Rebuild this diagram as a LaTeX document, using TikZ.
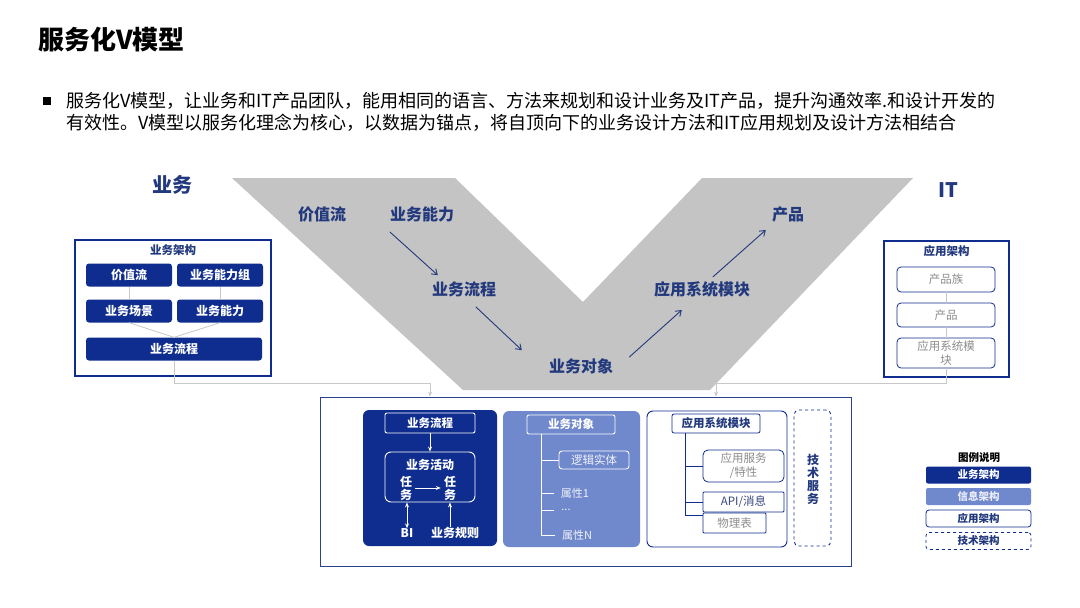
\documentclass[tikz,border=0pt]{standalone}
\usepackage{fontspec}
\setmainfont{Noto Sans CJK SC}
\usepackage{xcolor}
\usetikzlibrary{arrows.meta,calc}
\definecolor{bizblue}{HTML}{0E2D8E}
\definecolor{infoblue}{HTML}{7088CC}
\definecolor{vgray}{HTML}{C4C4C4}
\definecolor{navy}{HTML}{22397D}
\definecolor{lineg}{HTML}{C8C8C8}
\definecolor{txtgray}{HTML}{8C8C8C}

\begin{document}
\begin{tikzpicture}[x=1pt,y=-1pt,
  vlabel/.style={text=navy, font=\fontsize{16}{18}\selectfont\bfseries, inner sep=0pt},
  varrow/.style={-{Straight Barb[length=5pt,width=7pt]}, line width=0.9pt, navy},
  bizbtn/.style={fill=bizblue, rounded corners=3pt, text=white, font=\fontsize{12}{14}\selectfont\bfseries, minimum height=23pt, inner sep=0pt},
  appbtn/.style={draw=bizblue, rounded corners=4pt, text=txtgray, font=\fontsize{11.5}{14}\selectfont, inner sep=0pt, align=center, line width=0.8pt, minimum width=98pt},
  frame/.style={draw=bizblue, line width=1.2pt, inner sep=0pt},
  boxtitle/.style={text=navy, font=\fontsize{11.5}{13}\selectfont\bfseries, inner sep=0pt},
  glink/.style={draw=lineg, line width=0.8pt},
  garrow/.style={glink, -{Stealth[length=5pt,width=4pt]}},
  wline/.style={draw=white, line width=0.9pt},
  warrow/.style={wline, -{Stealth[length=5pt,width=4pt]}},
  wbox/.style={draw=white, rounded corners=2pt, text=white, inner sep=0pt, line width=0.9pt, font=\fontsize{11.5}{13}\selectfont\bfseries},
  wtext/.style={text=white, inner sep=0pt, align=center, font=\fontsize{12}{13}\selectfont\bfseries},
  ltext/.style={text=white!90!infoblue, inner sep=0pt, font=\fontsize{11}{13}\selectfont},
  abox/.style={draw=bizblue, rounded corners=2pt, inner sep=0pt, line width=0.8pt, align=center, font=\fontsize{11.5}{14}\selectfont},
  legbiz/.style={fill=bizblue, text=white, rounded corners=2pt},
  leginfo/.style={fill=infoblue, text=white!85!infoblue, rounded corners=2pt},
  legapp/.style={draw=bizblue, text=navy, rounded corners=3pt, line width=0.8pt},
  legtech/.style={draw=bizblue, text=navy, dashed, rounded corners=3pt, line width=0.8pt},
  legbox/.style={minimum width=105pt, minimum height=17pt, inner sep=0pt, font=\fontsize{10.5}{12}\selectfont\bfseries}
]
\useasboundingbox[fill=white] (0,0) rectangle (1080,608);

% title and bullet text
\node[anchor=west, inner sep=0pt, font=\fontsize{26}{30}\selectfont\bfseries] (title) at (38,40) {服务化V模型};
\node[fill=black, minimum size=8pt, inner sep=0pt] (bul) at (47,101) {};
\node[anchor=west, inner sep=0pt, align=left, font=\fontsize{18}{22}\selectfont] (intro) at (66,112)
  {服务化V模型，让业务和IT产品团队，能用相同的语言、方法来规划和设计业务及IT产品，提升沟通效率.和设计开发的\\
   有效性。V模型以服务化理念为核心，以数据为锚点，将自顶向下的业务设计方法和IT应用规划及设计方法相结合};

% the V
\fill[vgray] (232,178) -- (455,178) -- (583,302) -- (702,178) -- (913,178) -- (710,390) -- (463,390) -- cycle;
\node[text=navy, font=\fontsize{20}{22}\selectfont\bfseries, inner sep=0pt] (biz) at (172,185) {业务};
\node[text=navy, font=\fontsize{20}{22}\selectfont\bfseries, inner sep=0pt] (it) at (948,190) {IT};

\node[vlabel] (vs) at (322,214) {价值流};
\node[vlabel] (cap) at (422,214) {业务能力};
\node[vlabel] (proc) at (464,289) {业务流程};
\node[vlabel] (obj) at (581,366) {业务对象};
\node[vlabel] (mod) at (702,289) {应用系统模块};
\node[vlabel] (prod) at (788,214) {产品};

\draw[varrow] ([yshift=-10pt]cap.south west) -- ([xshift=6pt,yshift=6pt]proc.north west);
\draw[varrow] ([xshift=44pt,yshift=-10pt]proc.south west) -- ([xshift=-27pt,yshift=8pt]obj.north west);
\draw[varrow] ([xshift=16pt,yshift=1pt]obj.north east) -- ([xshift=28pt,yshift=-13pt]mod.south west);
\draw[varrow] ([xshift=59pt,yshift=4pt]mod.north west) -- ([xshift=-6pt,yshift=-8pt]prod.south west);

% business architecture box
\node[frame, minimum width=196pt, minimum height=136pt] (bizarch) at (173,308) {};
\node[boxtitle] (bizt) at (173,250) {业务架构};
\node[bizbtn, minimum width=86pt] (bvs) at (129,275) {价值流};
\node[bizbtn, minimum width=86pt] (bcapg) at (220,275) {业务能力组};
\node[bizbtn, minimum width=86pt] (bscen) at (129,311) {业务场景};
\node[bizbtn, minimum width=86pt] (bcap) at (220,311) {业务能力};
\node[bizbtn, minimum width=176pt] (bflow) at (174,349) {业务流程};
\draw[glink] (bvs.south) -- (bscen.north);
\draw[glink] (bcapg.south) -- (bcap.north);
\draw[glink] (bscen.south) -- (bflow.north);
\draw[glink] (bcap.south) -- (bflow.north);

% application architecture box
\node[frame, minimum width=125pt, minimum height=136pt] (apparch) at (946.5,309) {};
\node[boxtitle] (appt) at (946.5,251) {应用架构};
\node[appbtn, minimum height=25pt] (apf) at (946,279.5) {产品族};
\node[appbtn, minimum height=24pt] (apr) at (946,315) {产品};
\node[appbtn, minimum height=30pt] (asm) at (946,353) {应用系统模\\块};
\draw[glink] (apf.south) -- (apr.north);
\draw[glink] (apr.south) -- (asm.north);

% detail frame
\node[draw=bizblue!75!gray, line width=0.8pt, minimum width=531pt, minimum height=169pt, inner sep=0pt] (detail) at (585.5,481.5) {};

% business panel
\node[fill=bizblue, rounded corners=6pt, minimum width=134pt, minimum height=136pt, inner sep=0pt] (bizpanel) at (430,478) {};
\node[wbox, minimum width=90pt, minimum height=20pt] (bp) at (430,423) {业务流程};
\node[wbox, rounded corners=6pt, minimum width=90pt, minimum height=50pt] (act) at (430,477) {};
\node[wtext] (actt) at (430,465) {业务活动};
\node[wtext] (task1) at (406,488) {任\\务};
\node[wtext] (task2) at (450,488) {任\\务};
\node[wtext] (bi) at (407,533) {BI};
\node[wtext] (rule) at (455,533) {业务规则};
\draw[warrow] ([xshift=3pt]task1.east) -- ([xshift=-3pt]task2.west);
\draw[warrow] (bp.south) -- (act.north);
\draw[wline, {Stealth[length=5pt,width=4pt]}-{Stealth[length=5pt,width=4pt]}] (bi.north) -- (bi.north |- act.south);
\draw[warrow] (rule.north -| task2) -- (act.south -| task2);

% information panel
\node[fill=infoblue, rounded corners=6pt, minimum width=137pt, minimum height=136pt, inner sep=0pt] (infopanel) at (571.5,479) {};
\node[wbox, minimum width=88pt, minimum height=19pt] (ob) at (571,424.5) {业务对象};
\node[wbox, rounded corners=3pt, minimum width=70pt, minimum height=18pt, font=\fontsize{11.5}{13}\selectfont, text=white!90!infoblue] (le) at (594,460) {逻辑实体};
\node[ltext] (a1) at (575,493) {属性1};
\node[ltext] (dots) at (566,510) {...};
\node[ltext] (aN) at (577,535) {属性N};
\coordinate (obt) at ([xshift=15pt]ob.south west);
\draw[wline] (obt) |- ([xshift=-7pt]aN.west);
\draw[wline] (obt |- le.west) -- (le.west);
\foreach \n in {a1,dots}
  \draw[wline] (obt |- \n.west) -- ([xshift=-7pt]\n.west);

% application panel
\node[draw=bizblue, line width=0.9pt, rounded corners=6pt, minimum width=140pt, minimum height=136pt, inner sep=0pt] (apppanel) at (717,479) {};
\node[abox, minimum width=88pt, minimum height=19pt, text=navy, font=\fontsize{11.5}{13}\selectfont\bfseries] (am) at (716,423.5) {应用系统模块};
\node[abox, rounded corners=5pt, minimum width=81pt, minimum height=32pt, text=txtgray] (sv) at (743.5,466) {应用服务\\/特性};
\node[abox, rounded corners=1pt, minimum width=81pt, minimum height=20pt, text=navy!80!gray] (api) at (743.5,502) {API/消息};
\node[abox, rounded corners=1pt, minimum width=63pt, minimum height=20pt, text=txtgray] (tb) at (734.5,523) {物理表};
\coordinate (amt) at ([xshift=14pt]am.south west);
\draw[draw=bizblue, line width=0.8pt] (amt) |- ([yshift=8pt]tb.west);
\foreach \n in {sv,api}
  \draw[draw=bizblue, line width=0.8pt] (amt |- \n.west) -- (\n.west);

% technology service
\node[draw=bizblue, dashed, line width=0.9pt, rounded corners=5pt, minimum width=37pt, minimum height=136pt, inner sep=0pt] (tech) at (812.5,478) {};
\node[text=navy, align=center, inner sep=0pt, font=\fontsize{12}{13}\selectfont\bfseries] (techt) at (813,479) {技\\术\\服\\务};

% connectors into the detail frame
\draw[garrow] (bflow.south) -- ++(0,23) -| (detail.north -| bp.north);
\draw[garrow] (asm.south) -- ++(0,15) -| (detail.north -| am.north);

% legend
\node[inner sep=0pt, font=\fontsize{10.5}{12}\selectfont\bfseries] (legt) at (979,458) {图例说明};
\foreach \y/\t/\s [count=\i] in {475/业务架构/legbiz, 496.5/信息架构/leginfo, 518.5/应用架构/legapp, 541/技术架构/legtech}
  \node[legbox, \s] (leg\i) at (978.5,\y) {\t};

\end{tikzpicture}
\end{document}
